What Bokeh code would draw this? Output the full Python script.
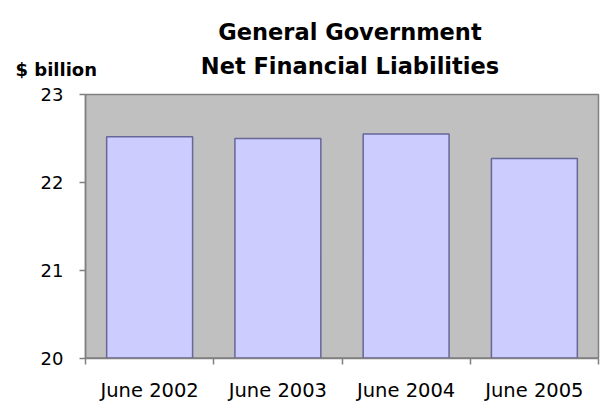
from bokeh.plotting import figure
from bokeh.models import FixedTicker, Range1d
from bokeh.core.properties import value
from bokeh.embed import file_html
from bokeh.resources import INLINE

categories = ["June 2002", "June 2003", "June 2004", "June 2005"]
values = [22.52, 22.50, 22.55, 22.27]
y_ticks = [20, 21, 22, 23]
title_lines = ["General Government", "Net Financial Liabilities"]
unit_label = "$ billion"

W, H = 600, 401
# plot-area edges in canvas pixels
PL, PR, PT, PB = 85, 598, 94, 357.5
y0, y1 = 20, 23
n = len(categories)
font = "DejaVu Sans"

sx = (PR - PL) / n            # px per category
sy = (PB - PT) / (y1 - y0)    # px per unit
def dx(px):
    return (px - PL) / sx
def dy(py):
    return y0 + (PB - py) / sy

p = figure(width=W, height=H, output_backend="svg", toolbar_location=None,
           x_range=Range1d(dx(0), dx(W)), y_range=Range1d(dy(H), dy(0)),
           min_border=0)
p.title_location = None
p.outline_line_color = None
p.background_fill_color = "white"
p.border_fill_color = "white"
p.grid.visible = False

# plot area
p.quad(left=[0], right=[n], bottom=[y0], top=[y1], fill_color="#C0C0C0",
       line_color="#808080", line_width=1.5)

xs = [i + 0.5 for i in range(n)]
p.vbar(x=xs, top=values, bottom=y0, width=0.67, fill_color="#CCCCFF",
       line_color="#666699", line_width=1.5)

xa = p.xaxis[0]
xa.fixed_location = y0
xa.bounds = (0, n)
xa.ticker = FixedTicker(ticks=xs, minor_ticks=list(range(n + 1)))
xa.major_label_overrides = {x: c for x, c in zip(xs, categories)}
xa.major_tick_in = 0
xa.major_tick_out = 0
xa.minor_tick_in = 0
xa.minor_tick_out = 6
xa.minor_tick_line_color = "#808080"
xa.minor_tick_line_width = 1.5
xa.axis_line_color = "#808080"
xa.axis_line_width = 1.5
xa.major_label_text_font = font
xa.major_label_text_font_size = "19.5px"
xa.major_label_text_color = "black"
xa.major_label_standoff = 15

ya = p.yaxis[0]
ya.fixed_location = 0
ya.bounds = (y0, y1)
ya.ticker = FixedTicker(ticks=y_ticks, minor_ticks=[])
ya.major_tick_in = 0
ya.major_tick_out = 6
ya.major_tick_line_color = "#808080"
ya.major_tick_line_width = 1.5
ya.axis_line_color = "#808080"
ya.axis_line_width = 1.5
ya.major_label_text_font = font
ya.major_label_text_font_size = "18px"
ya.major_label_text_color = "black"
ya.major_label_standoff = 16

p.text(x=[dx(349.5)] * 2, y=[dy(31.7), dy(65)], text=title_lines,
       text_align="center", text_baseline="alphabetic",
       text_font=value(font), text_font_style="bold",
       text_font_size="22.5px", text_color="black")
p.text(x=[dx(15)], y=[dy(69.3)], text=[unit_label],
       text_align="left", text_baseline="alphabetic",
       text_font=value(font), text_font_style="bold",
       text_font_size="18px", text_color="black")

open("out.html", "w").write(file_html(p, INLINE))
